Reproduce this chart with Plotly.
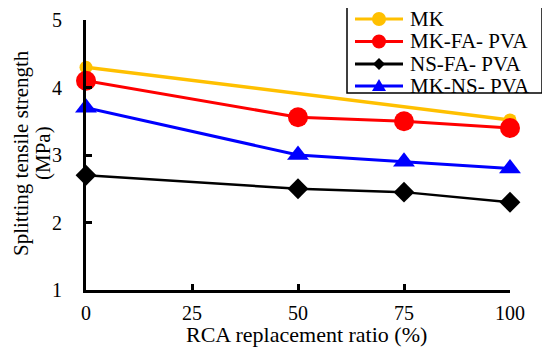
import plotly.graph_objects as go

x_ratio = [0, 50, 75, 100]
mk_x = [0, 100]
mk = [4.3, 3.52]
mk_fa_pva = [4.1, 3.56, 3.5, 3.4]
ns_fa_pva = [2.7, 2.5, 2.45, 2.3]
mk_ns_pva = [3.7, 3.0, 2.9, 2.8]
x_ticks = [0, 25, 50, 75, 100]
y_ticks = [1, 2, 3, 4, 5]
series_names = ["MK", "MK-FA- PVA", "NS-FA- PVA", "MK-NS- PVA"]
series_colors = ["#FFC000", "#FF0000", "#000000", "#0000FF"]
x_title = "RCA replacement ratio (%)"
y_title_lines = ["Splitting tensile strength", "(MPa)"]

FONT = "Times New Roman, Liberation Serif, serif"
OFF = 8  # page body margin offset of the browser
W, H = 550 - OFF, 357 - OFF
ML, MT = 86 - OFF, 20 - OFF
PLOT_R, PLOT_B = 510 - OFF, 290 - OFF
MR, MB = W - PLOT_R, H - PLOT_B
PW, PH = PLOT_R - ML, PLOT_B - MT


def px_x(p):
    return (p - OFF - ML) / PW


def px_y(p):
    return (PLOT_B - (p - OFF)) / PH


fig = go.Figure()
fig.add_trace(go.Scatter(x=mk_x, y=mk, name=series_names[0], mode="lines+markers",
                         line=dict(color=series_colors[0], width=3.5),
                         marker=dict(symbol="circle", size=13, color=series_colors[0]),
                         cliponaxis=False))
fig.add_trace(go.Scatter(x=x_ratio, y=mk_fa_pva, name=series_names[1], mode="lines+markers",
                         line=dict(color=series_colors[1], width=3),
                         marker=dict(symbol="circle", size=20, color=series_colors[1]),
                         cliponaxis=False))
fig.add_trace(go.Scatter(x=x_ratio, y=ns_fa_pva, name=series_names[2], mode="lines+markers",
                         line=dict(color=series_colors[2], width=2.5),
                         marker=dict(symbol="diamond", size=16, color=series_colors[2]),
                         cliponaxis=False))
fig.add_trace(go.Scatter(x=x_ratio, y=mk_ns_pva, name=series_names[3], mode="lines+markers",
                         line=dict(color=series_colors[3], width=3),
                         marker=dict(symbol="triangle-up", size=19, color=series_colors[3]),
                         cliponaxis=False))

# Custom legend (compact, like the original)
shapes = [dict(type="rect", xref="paper", yref="paper",
               x0=px_x(347), x1=px_x(542), y0=px_y(93), y1=px_y(5),
               line=dict(color="black", width=1.5), fillcolor="white", layer="above")]
annotations = []
row_y = [19, 41.5, 64, 86]
kinds = ["circle", "circle", "diamond", "triangle"]
for name, color, kind, py in zip(series_names, series_colors, kinds, row_y):
    yy = px_y(py)
    shapes.append(dict(type="line", xref="paper", yref="paper",
                       x0=px_x(355), x1=px_x(403), y0=yy, y1=yy,
                       line=dict(color=color, width=3), layer="above"))
    xa = px_x(379)
    common = dict(xref="paper", yref="paper", xsizemode="pixel", ysizemode="pixel",
                  xanchor=xa, yanchor=yy, fillcolor=color, line=dict(color=color, width=0),
                  layer="above")
    if kind == "circle":
        shapes.append(dict(type="circle", x0=-7, x1=7, y0=-7, y1=7, **common))
    elif kind == "diamond":
        shapes.append(dict(type="path", path="M -6 0 L 0 6 L 6 0 L 0 -6 Z", **common))
    else:
        shapes.append(dict(type="path", path="M -7 -5 L 7 -5 L 0 7 Z", **common))
    annotations.append(dict(xref="paper", yref="paper", x=px_x(408), y=yy,
                            xanchor="left", yanchor="middle", showarrow=False,
                            text=name, font=dict(family=FONT, size=21, color="black")))

# axis titles placed as in the original
annotations.append(dict(xref="paper", yref="paper", x=px_x(306), y=px_y(334),
                        xanchor="center", yanchor="middle", showarrow=False,
                        text=x_title, font=dict(family=FONT, size=22, color="black")))
for line_text, cx in zip(y_title_lines, [21, 43]):
    annotations.append(dict(xref="paper", yref="paper", x=px_x(cx), y=px_y(153),
                            xanchor="center", yanchor="middle", showarrow=False,
                            textangle=-90, borderpad=0,
                            text=line_text, font=dict(family=FONT, size=21, color="black")))

fig.update_layout(
    width=W, height=H,
    margin=dict(l=ML, r=MR, t=MT, b=MB),
    paper_bgcolor="white", plot_bgcolor="white",
    font=dict(family=FONT, size=20, color="black"),
    showlegend=False,
    shapes=shapes,
    annotations=annotations,
    xaxis=dict(range=[0, 100], tickvals=x_ticks, ticks="inside", ticklen=6,
               tickwidth=2.5, tickcolor="black", showline=True, linewidth=3,
               linecolor="black", showgrid=False, zeroline=False, automargin=False,
               ticklabelstandoff=3,
               tickfont=dict(family=FONT, size=20)),
    yaxis=dict(range=[1, 5], tickvals=y_ticks, ticks="inside", ticklen=6,
               tickwidth=2.5, tickcolor="black", showline=True, linewidth=3,
               linecolor="black", showgrid=False, zeroline=False, automargin=False,
               ticklabelstandoff=17,
               tickfont=dict(family=FONT, size=20)),
)

fig.write_html("out.html")
